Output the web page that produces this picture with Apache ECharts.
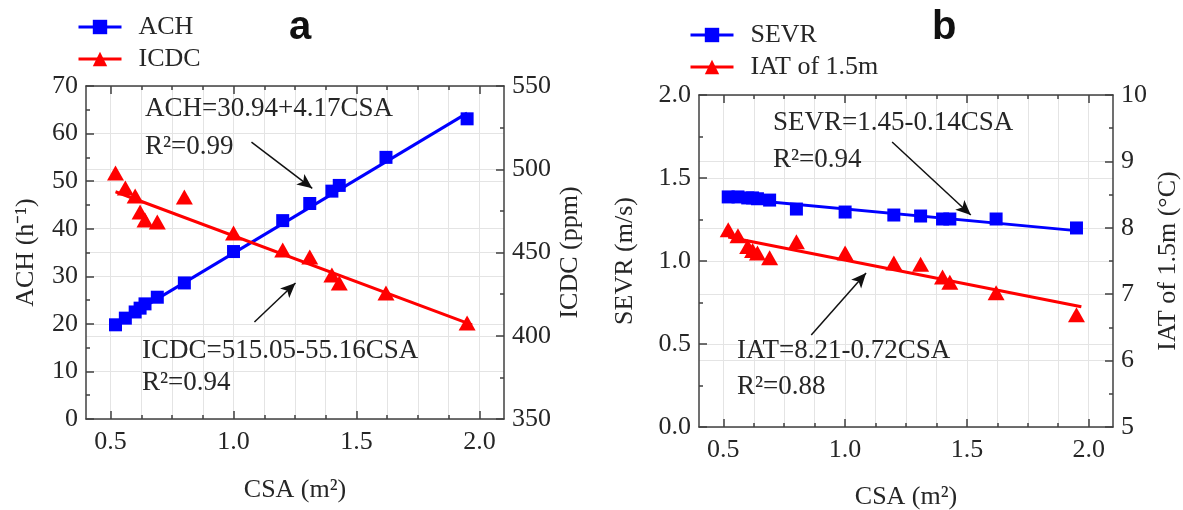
<!DOCTYPE html>
<html>
<head>
<meta charset="utf-8">
<script src="https://cdn.jsdelivr.net/npm/echarts@6/dist/echarts.min.js"></script>
<style>
  html, body { margin: 0; padding: 0; background: #fff; }
  #chart { width: 1183px; height: 510px; }
</style>
</head>
<body>
<div id="chart"></div>
<script>
// CSA regressions: panel a (ACH / ICDC) and panel b (SEVR / IAT of 1.5m)

const csa  = [0.52, 0.56, 0.60, 0.62, 0.64, 0.69, 0.80, 1.00, 1.20, 1.31, 1.40, 1.43, 1.62, 1.95];
const ach  = [19.8, 21.2, 22.5, 23.3, 24.2, 25.6, 28.6, 35.2, 41.7, 45.3, 47.9, 49.1, 55.0, 63.1];
const icdc = [497.7, 488.7, 484.0, 474.3, 469.5, 468.3, 483.3, 461.7, 451.5, 447.3, 436.5, 431.7, 425.7, 407.7];
const sevr = [1.386, 1.386, 1.38, 1.38, 1.375, 1.367, 1.313, 1.295, 1.277, 1.271, 1.253, 1.253, 1.253, 1.199];
const iat  = [7.97, 7.88, 7.72, 7.66, 7.62, 7.55, 7.79, 7.62, 7.47, 7.45, 7.26, 7.18, 7.02, 6.69];

// fitted lines, end points
const achFit  = [[0.52, 20.0], [1.95, 64.3]];
const icdcFit = [[0.52, 486.5], [1.97, 406.5]];
const sevrFit = [[0.52, 1.38], [1.97, 1.18]];
const iatFit  = [[0.52, 7.86], [1.97, 6.81]];

// annotation arrows (start, tip) in data units of the left axis of each panel
const achArrow  = [[1.073, 58.2], [1.32, 48.5]];
const icdcArrow = [[1.085, 20.4], [1.252, 28.6]];
const sevrArrow = [[1.193, 1.717], [1.516, 1.277]];
const iatArrow  = [[0.861, 0.554], [1.086, 0.928]];

const xMajor = [0.5, 1.0, 1.5, 2.0];
const xMinor = [0.5, 0.625, 0.75, 0.875, 1.0, 1.125, 1.25, 1.375, 1.5, 1.625, 1.75, 1.875, 2.0];

const FONT = 'Liberation Serif';
const INK = '#262626';
const FRAME = '#404040';
const GRIDLINE = '#e4e4e4';
const BLUE = '#0000ff';
const RED = '#ff0000';

function pair(xs, ys) {
    return xs.map((x, i) => [x, ys[i]]);
}

const frameLine = { color: FRAME, width: 1.5 };
const tickFont = { fontSize: 26, fontFamily: FONT, color: INK };

function xAxes(grid, nameGap) {
    const base = { type: 'value', gridIndex: grid, min: 0.4, max: 2.1 };
    return [
        {
            ...base, position: 'bottom',
            name: 'CSA (m²)', nameLocation: 'middle', nameGap,
            nameTextStyle: { fontSize: 26, fontFamily: FONT, color: INK },
            axisLine: { show: true, lineStyle: frameLine },
            axisTick: { show: true, inside: true, length: 8, customValues: xMajor, lineStyle: frameLine },
            axisLabel: { ...tickFont, customValues: xMajor, margin: 10, formatter: v => v.toFixed(1) },
            splitLine: { show: false }
        },
        {
            ...base, position: 'bottom',
            axisLine: { show: false },
            axisTick: { show: true, inside: true, length: 4, customValues: xMinor, lineStyle: frameLine },
            axisLabel: { show: false },
            splitLine: { show: true, lineStyle: { color: GRIDLINE, width: 1 } }
        },
        {
            ...base, position: 'top',
            axisLine: { show: true, lineStyle: frameLine },
            axisTick: { show: true, inside: true, length: 8, customValues: xMajor, lineStyle: frameLine },
            axisLabel: { show: false },
            splitLine: { show: false }
        },
        {
            ...base, position: 'top',
            axisLine: { show: false },
            axisTick: { show: true, inside: true, length: 4, customValues: xMinor, lineStyle: frameLine },
            axisLabel: { show: false },
            splitLine: { show: false }
        }
    ];
}

function yAxis(grid, position, min, max, interval, name, nameGap, formatter) {
    return {
        type: 'value', gridIndex: grid, position, min, max, interval,
        name, nameLocation: 'middle', nameGap,
        nameTextStyle: { fontSize: 26, fontFamily: FONT, color: INK },
        axisLine: { show: true, lineStyle: frameLine },
        axisTick: { show: true, inside: true, length: 8, lineStyle: frameLine },
        minorTick: { show: true, splitNumber: 2, length: 4, lineStyle: frameLine },
        axisLabel: { ...tickFont, margin: 8, formatter },
        splitLine: { show: true, lineStyle: { color: GRIDLINE, width: 1 } }
    };
}

function arrows(list) {
    return {
        silent: true, animation: false,
        symbol: ['none', 'arrow'], symbolSize: [10, 15],
        label: { show: false },
        itemStyle: { color: '#111' },
        lineStyle: { color: '#111', width: 1.5, type: 'solid' },
        emphasis: { disabled: true },
        data: list.map(a => [{ coord: a[0] }, { coord: a[1] }])
    };
}

function fitSeries(name, xi, yi, data, color, symbol, markLine) {
    const s = {
        name, type: 'line', xAxisIndex: xi, yAxisIndex: yi, data,
        symbol, symbolSize: 14, showSymbol: false,
        lineStyle: { color, width: 3 }, itemStyle: { color },
        silent: true, z: 2
    };
    if (markLine) s.markLine = markLine;
    return s;
}

function pointSeries(name, xi, yi, data, color, symbol, size) {
    return {
        name, type: 'scatter', xAxisIndex: xi, yAxisIndex: yi, data,
        symbol, symbolSize: size,
        itemStyle: { color, opacity: 1 },
        silent: true, z: 3
    };
}

// equation notes, placed by the vertical centre of the line of text
function note(text, x, y) {
    return {
        text, left: x, top: y - 15, padding: 0,
        textStyle: { fontSize: 27, fontWeight: 'normal', fontFamily: FONT, color: INK }
    };
}

function panelTag(text, x) {
    return {
        text, left: x, top: 8, padding: 0,
        textStyle: { fontSize: 40, fontWeight: 'bold', fontFamily: 'Liberation Sans', color: '#111' }
    };
}

function legendBox(names, left, top) {
    return {
        data: names, orient: 'vertical', left, top, padding: 0,
        itemWidth: 43, itemHeight: 18, itemGap: 6, selectedMode: false,
        lineStyle: { width: 3 },
        textStyle: { fontSize: 26, fontFamily: FONT, color: INK, padding: [0, 0, 0, 12] }
    };
}

const chart = echarts.init(document.getElementById('chart'), null, { renderer: 'canvas' });

chart.setOption({
    animation: false,
    backgroundColor: '#fff',
    title: [
        note('ACH=30.94+4.17CSA', 145, 110),
        note('R²=0.99', 145, 148),
        note('ICDC=515.05-55.16CSA', 142, 352),
        note('R²=0.94', 142, 384),
        note('SEVR=1.45-0.14CSA', 773, 124),
        note('R²=0.94', 773, 161),
        note('IAT=8.21-0.72CSA', 737, 352),
        note('R²=0.88', 737, 388),
        panelTag('a', 289),
        panelTag('b', 932)
    ],
    grid: [
        { left: 86, top: 86, width: 418, height: 333, outerBoundsMode: 'none', containLabel: false },
        { left: 699, top: 95, width: 414, height: 332, outerBoundsMode: 'none', containLabel: false }
    ],
    legend: [
        legendBox(['ACH', 'ICDC'], 77, 14),
        legendBox(['SEVR', 'IAT of 1.5m'], 689, 22)
    ],
    xAxis: [...xAxes(0, 58), ...xAxes(1, 57)],
    yAxis: [
        yAxis(0, 'left', 0, 70, 10, 'ACH (h⁻¹)', 47),
        yAxis(0, 'right', 350, 550, 50, 'ICDC (ppm)', 53),
        yAxis(1, 'left', 0, 2, 0.5, 'SEVR (m/s)', 61, v => v.toFixed(1)),
        yAxis(1, 'right', 5, 10, 1, 'IAT of 1.5m (°C)', 42)
    ],
    series: [
        fitSeries('ACH', 0, 0, achFit, BLUE, 'rect', arrows([achArrow, icdcArrow])),
        fitSeries('ICDC', 0, 1, icdcFit, RED, 'triangle'),
        pointSeries('ACH points', 0, 0, pair(csa, ach), BLUE, 'rect', 13),
        pointSeries('ICDC points', 0, 1, pair(csa, icdc), RED, 'triangle', [17, 15]),
        fitSeries('SEVR', 4, 2, sevrFit, BLUE, 'rect', arrows([sevrArrow, iatArrow])),
        fitSeries('IAT of 1.5m', 4, 3, iatFit, RED, 'triangle'),
        pointSeries('SEVR points', 4, 2, pair(csa, sevr), BLUE, 'rect', 13),
        pointSeries('IAT points', 4, 3, pair(csa, iat), RED, 'triangle', [17, 15])
    ]
});

window.addEventListener('resize', () => chart.resize());
</script>
</body>
</html>
